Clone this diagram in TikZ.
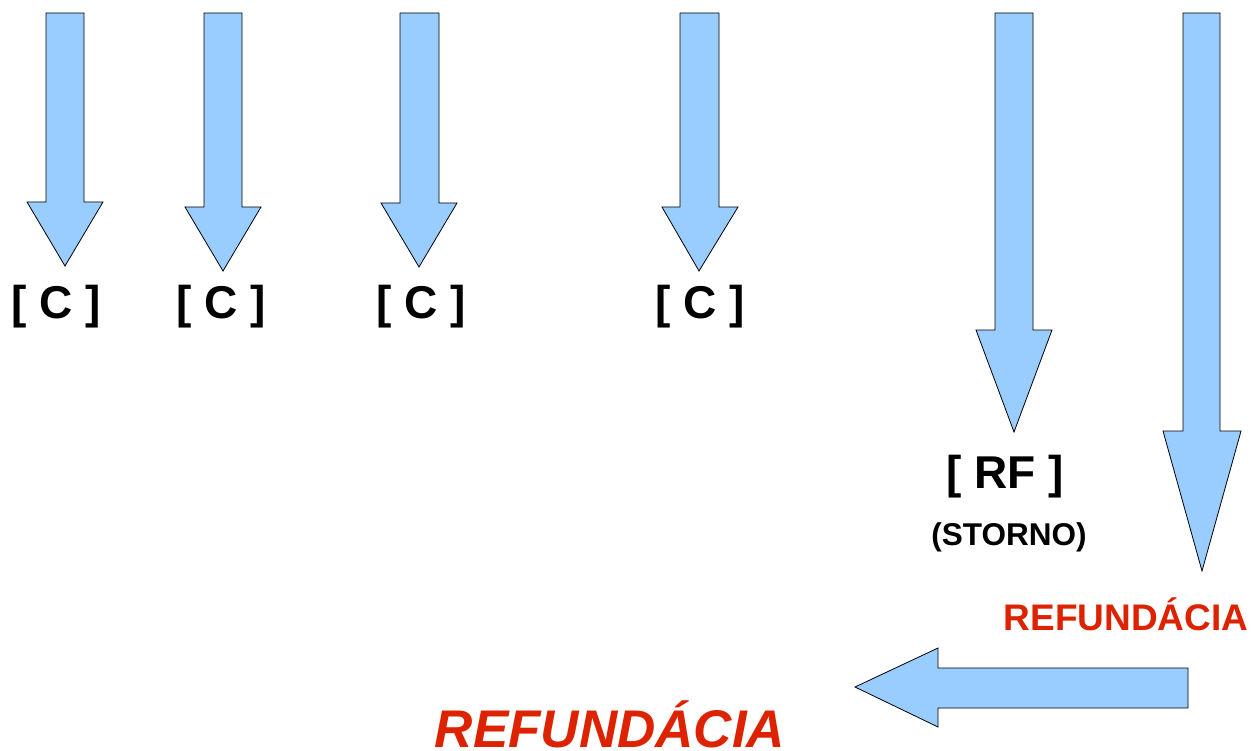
\documentclass[tikz,border=0pt]{standalone}
\usepackage{fontspec}
\setmainfont{Liberation Sans}
\definecolor{arrowblue}{RGB}{153,204,255}
\definecolor{labelred}{RGB}{221,34,0}
\begin{document}
\begin{tikzpicture}[x=1pt,y=-1pt,
  blockarrow/.style={fill=arrowblue,draw=black,line width=0.8pt,line join=miter},
  clabel/.style={anchor=base,inner sep=0pt,font=\fontsize{46}{50}\selectfont\bfseries},
  smalllabel/.style={anchor=base,inner sep=0pt,font=\fontsize{31.5}{36}\selectfont\bfseries},
  redlabel/.style={anchor=base,inner sep=0pt,text=labelred,font=\fontsize{37}{42}\selectfont\bfseries},
  bigred/.style={anchor=base,inner sep=0pt,text=labelred,font=\fontsize{53}{58}\selectfont\bfseries\itshape}]
\useasboundingbox (0,0) rectangle (1252,751);
% down arrows
\draw[blockarrow] (46,13) -- (84,13) -- (84,202) -- (103,202) -- (65,266) -- (27,202) -- (46,202) -- cycle;
\draw[blockarrow] (204,13) -- (242,13) -- (242,207) -- (261,207) -- (223,271) -- (185,207) -- (204,207) -- cycle;
\draw[blockarrow] (400,13) -- (439,13) -- (439,203) -- (457,203) -- (419,267) -- (381,203) -- (400,203) -- cycle;
\draw[blockarrow] (680,13) -- (719,13) -- (719,207) -- (738,207) -- (699,271) -- (662,207) -- (680,207) -- cycle;
\draw[blockarrow] (995,13) -- (1033,13) -- (1033,330) -- (1052,330) -- (1014,432) -- (976,330) -- (995,330) -- cycle;
\draw[blockarrow] (1183,13) -- (1220,13) -- (1220,431) -- (1241,431) -- (1202,571) -- (1163,431) -- (1183,431) -- cycle;
% left arrow
\draw[blockarrow] (1188,668) -- (938,668) -- (938,648) -- (855,687) -- (938,727) -- (938,708) -- (1188,708) -- cycle;
% labels
\node[clabel] (c1) at (56,318) {[ C ]};
\node[clabel] (c2) at (221,318) {[ C ]};
\node[clabel] (c3) at (421,318) {[ C ]};
\node[clabel] (c4) at (700,318) {[ C ]};
\node[clabel] (rf) at (1005,488) {[ RF ]};
\node[smalllabel] (storno) at (1009,545) {(STORNO)};
\node[redlabel] (ref1) at (1126,630) {REFUNDÁCIA};
\node[bigred] (ref2) at (610,747) {REFUNDÁCIA};
\end{tikzpicture}
\end{document}
